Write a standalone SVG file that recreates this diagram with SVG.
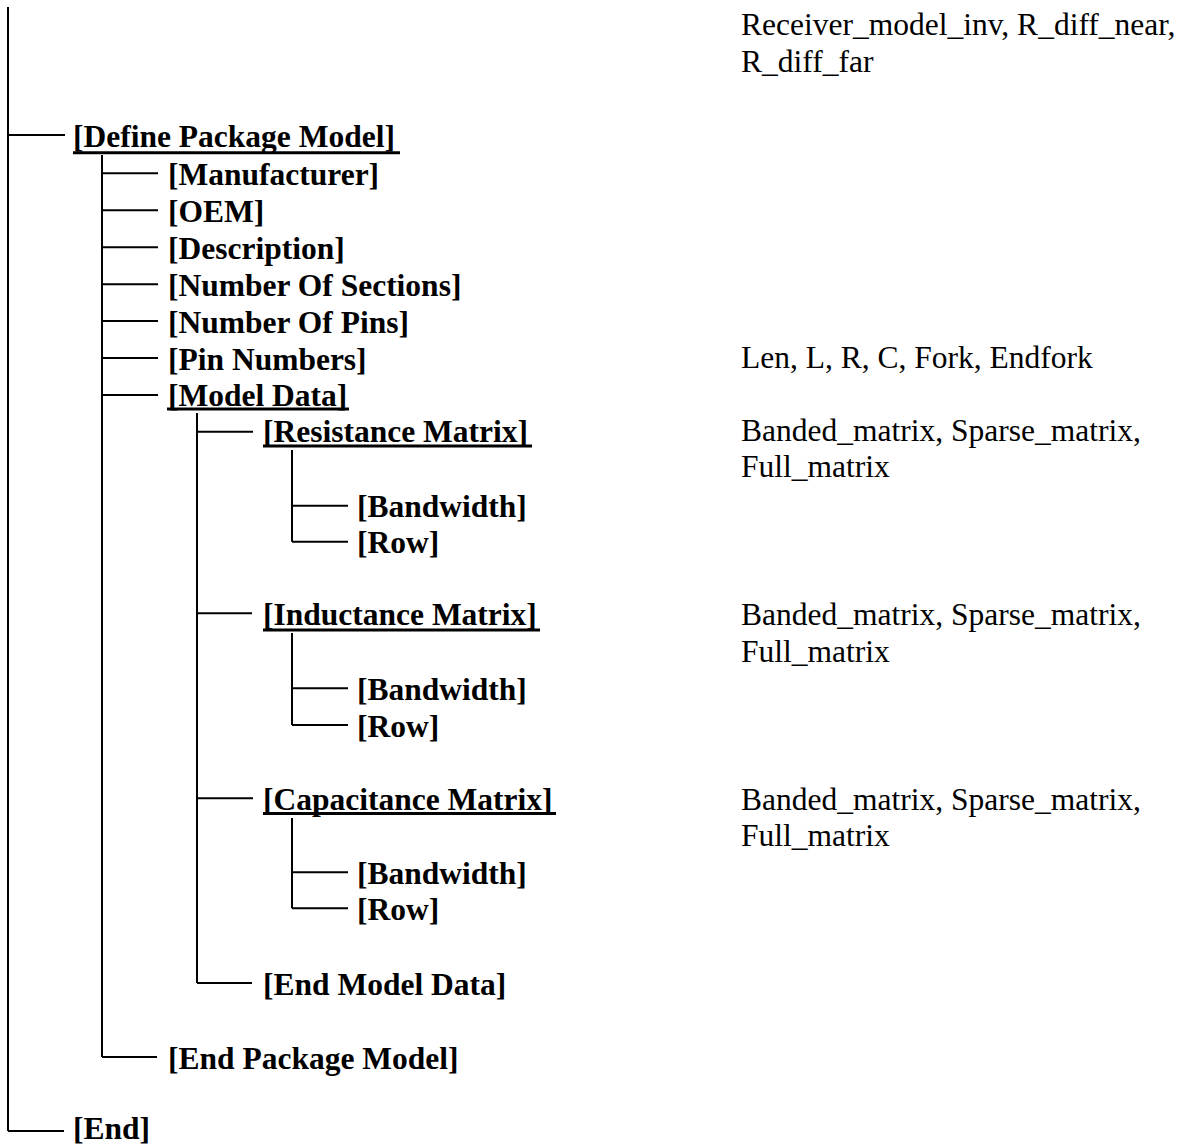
<svg xmlns="http://www.w3.org/2000/svg" width="1193" height="1146" viewBox="0 0 1193 1146">
<style>
.k{font-family:"Liberation Serif","Times New Roman",serif;font-size:31.5px;font-weight:bold;fill:#000}
.n{font-family:"Liberation Serif","Times New Roman",serif;font-size:31.5px;fill:#000}
.c{stroke:#000;stroke-width:2;fill:none}
.u{stroke:#000;stroke-width:3}
</style>
<rect width="1193" height="1146" fill="#fff"/>
<g id="connectors" class="c">
<path d="M8,7 V1131 M8,135 H65 M8,1131 H64"/>
<path d="M102,155 V1057 M102,173.3 H158 M102,210.3 H158 M102,247.2 H158 M102,284.2 H158 M102,321.1 H158 M102,358.1 H158 M102,395 H158 M102,1057 H157"/>
<path d="M197,413 V983 M197,431.7 H253 M197,613.3 H252 M197,798.3 H253 M197,983 H252"/>
<path d="M292,450 V541.7 M292,505.7 H348 M292,541.7 H348"/>
<path d="M292,633 V725 M292,688.3 H348 M292,725 H348"/>
<path d="M292,818 V908.3 M292,872.3 H348 M292,908.3 H348"/>
</g>
<g id="receiver-note"><text class="n" x="741" y="35">Receiver_model_inv, R_diff_near,</text><text class="n" x="741" y="72">R_diff_far</text></g>
<g id="define-package-model"><text class="k" x="73" y="147">[Define Package Model]</text><line class="u" x1="73" y1="152.7" x2="400" y2="152.7"/></g>
<g id="manufacturer"><text class="k" x="168" y="185">[Manufacturer]</text></g>
<g id="oem"><text class="k" x="168" y="222">[OEM]</text></g>
<g id="description"><text class="k" x="168" y="259">[Description]</text></g>
<g id="number-of-sections"><text class="k" x="168" y="296">[Number Of Sections]</text></g>
<g id="number-of-pins"><text class="k" x="168" y="333">[Number Of Pins]</text></g>
<g id="pin-numbers"><text class="k" x="168" y="369.5">[Pin Numbers]</text><text class="n" x="741" y="368">Len, L, R, C, Fork, Endfork</text></g>
<g id="model-data"><text class="k" x="168" y="406">[Model Data]</text><line class="u" x1="167" y1="409" x2="349" y2="409"/></g>
<g id="resistance-matrix"><text class="k" x="263" y="442">[Resistance Matrix]</text><line class="u" x1="263" y1="446" x2="532" y2="446"/><text class="n" x="741" y="441">Banded_matrix, Sparse_matrix,</text><text class="n" x="741" y="477">Full_matrix</text></g>
<g id="r-bandwidth"><text class="k" x="357" y="517">[Bandwidth]</text></g>
<g id="r-row"><text class="k" x="357" y="553">[Row]</text></g>
<g id="inductance-matrix"><text class="k" x="263" y="625">[Inductance Matrix]</text><line class="u" x1="263" y1="630" x2="540" y2="630"/><text class="n" x="741" y="625">Banded_matrix, Sparse_matrix,</text><text class="n" x="741" y="662">Full_matrix</text></g>
<g id="i-bandwidth"><text class="k" x="357" y="700">[Bandwidth]</text></g>
<g id="i-row"><text class="k" x="357" y="736.5">[Row]</text></g>
<g id="capacitance-matrix"><text class="k" x="263" y="810">[Capacitance Matrix]</text><line class="u" x1="263" y1="813.5" x2="556" y2="813.5"/><text class="n" x="741" y="809.5">Banded_matrix, Sparse_matrix,</text><text class="n" x="741" y="846">Full_matrix</text></g>
<g id="c-bandwidth"><text class="k" x="357" y="884">[Bandwidth]</text></g>
<g id="c-row"><text class="k" x="357" y="920">[Row]</text></g>
<g id="end-model-data"><text class="k" x="263" y="994.5">[End Model Data]</text></g>
<g id="end-package-model"><text class="k" x="168" y="1068.5">[End Package Model]</text></g>
<g id="end"><text class="k" x="73" y="1139">[End]</text></g>
</svg>
